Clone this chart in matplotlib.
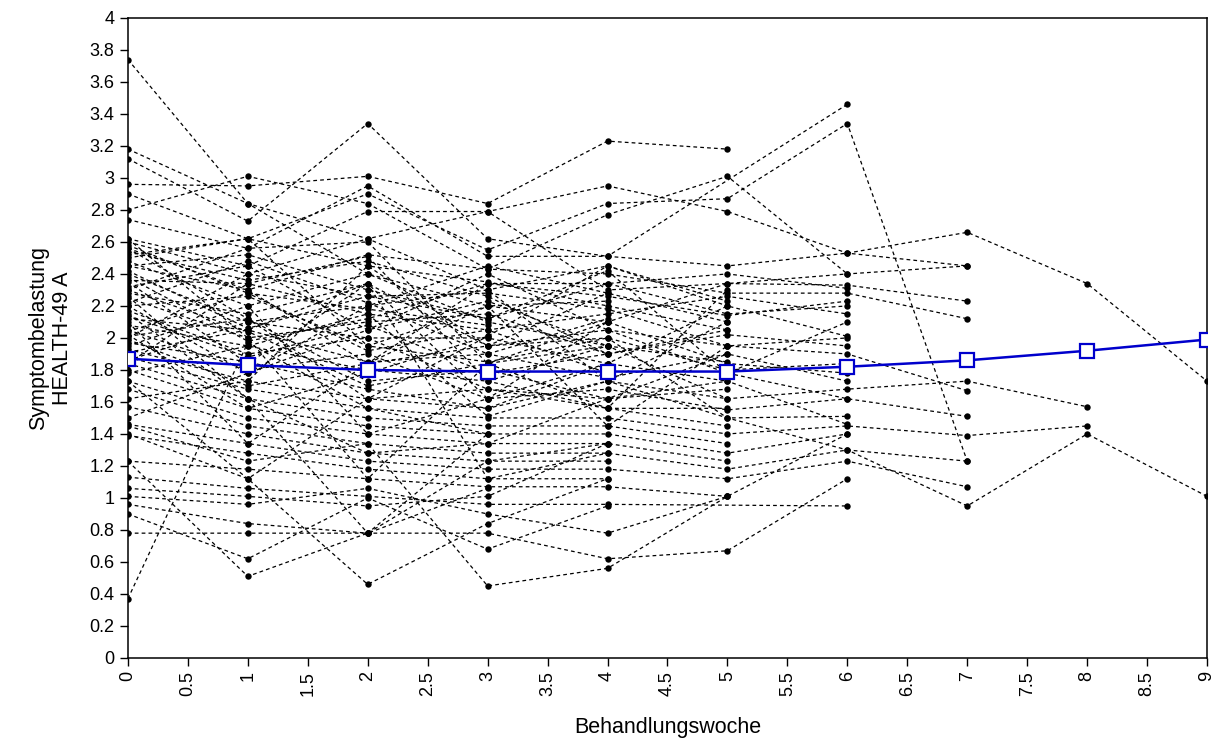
import numpy as np
import matplotlib
matplotlib.use('Agg')
import matplotlib.pyplot as plt
from matplotlib.ticker import FuncFormatter

plt.rcParams['font.family'] = ['Liberation Sans', 'DejaVu Sans']

# --- DATA
weeks = list(range(10))

# one list per patient, week 0 onwards; None = no measurement that week
patients = [
    [3.74, 2.84, 2.40, 2.10, 1.95],
    [3.18, 2.84, 2.62, 2.79, 2.95, 2.79, 2.53, 2.45],
    [3.12, 2.73, 3.34, 2.62, 2.51, 2.45, 2.53, 2.66, 2.34, 1.73],
    [2.96, 2.95, 3.01, 2.84, 3.23, 3.18],
    [2.90, 2.62, 2.90, 2.55, 2.84, 2.87, 3.34, 1.23],
    [2.80, 3.01, 2.84, 2.43, 2.77, 3.01, 2.40],
    [2.74, 2.56, 2.95, 2.51, 2.51, None, 3.46],
    [2.62, 2.45, 2.79, 2.79, 2.30, 2.34, 2.33, 2.23],
    [2.60, 2.40, 2.62, 2.30, 2.45, 2.20],
    [2.56, 2.30, 2.52, 2.43, 2.40, 2.28, 2.28, 2.12],
    [2.52, 2.62, 2.45, 2.35, 2.20, 2.05],
    [2.48, 2.20, 2.40, 2.20, 2.10, 2.34, 2.40, 2.45],
    [2.45, 2.52, 2.30, 2.12, 2.34, 2.15, 2.20],
    [2.40, 2.10, 2.20, 2.45, 2.28, 2.10],
    [2.36, 2.34, 2.15, 2.05, 2.15, 2.26, 2.15],
    [2.32, 2.45, 2.05, 2.23, 1.95, 1.85],
    [2.28, 2.15, 2.34, 1.95, 2.05, 1.95, 2.00],
    [2.25, 2.00, 2.10, 2.15, 1.90, 2.05],
    [2.20, 2.26, 1.95, 1.85, 2.00, 1.80, 1.84],
    [2.17, 1.90, 2.00, 2.00, 1.84, 1.73],
    [2.12, 2.05, 1.85, 1.90, 1.75, 1.90, 1.73],
    [2.08, 1.95, 1.80, 1.73, 1.95, 1.62],
    [2.05, 1.80, 1.90, 1.62, 1.68, 1.55, 1.62],
    [2.01, 2.12, 1.73, 1.80, 1.62, 1.68],
    [1.97, 1.85, 1.68, 1.56, 1.73, 1.50, 1.51],
    [1.93, 1.73, 1.62, 1.68, 1.56, 1.45],
    [1.88, 1.68, 1.56, 1.50, 1.50, 1.40, 1.45, 1.39, 1.45],
    [1.84, 1.62, 1.50, 1.45, 1.45, 1.34],
    [1.80, 1.56, 1.45, 1.40, 1.40, 1.28, 1.40],
    [1.73, 1.50, 1.40, 1.34, 1.34, 1.23],
    [1.68, 1.45, 1.34, 1.28, 1.28, 1.18, 1.30, 1.23],
    [1.57, 1.40, 1.28, 1.23, 1.23],
    [1.46, 1.34, 1.23, 1.18, 1.18, 1.12, 1.23, 1.07],
    [1.39, 1.28, 1.18, 1.12, 1.12],
    [1.23, 1.18, 1.12, 1.07, 1.07, 1.01],
    [1.13, 1.06, 1.01, 0.96, 0.96, None, 0.95],
    [1.06, 1.01, 0.95, 1.01, 1.34],
    [1.01, 0.96, 1.06, 0.90, 0.78, 1.01],
    [0.96, 0.84, 0.78, 0.78, 0.62, 0.67, 1.12],
    [0.90, 0.62, 1.00, 0.68, 0.95],
    [0.78, 0.78, 0.78, 1.23, 1.34],
    [0.37, 1.97, 1.56, 1.40],
    [1.23, 0.51, 0.78, 1.06],
    [1.40, 1.12, 0.46, 0.84, 1.12],
    [1.45, 1.23, 1.34, 0.45, 0.56, 1.01, 1.40],
    [2.20, 1.78, 2.20, 2.30, 1.73, 1.62, 1.68, 1.73, 1.57],
    [1.62, 1.73, 2.45, 1.95, 2.00, 1.50, 1.30, 0.95, 1.40, 1.01],
    [2.30, 2.56, 2.60, 1.84, 1.56, 2.30],
    [2.45, 2.30, 1.84, 2.34, 2.34, 2.40, 2.31],
    [2.56, 2.12, 1.62, 1.56, 1.84, 2.20, 2.01],
    [2.00, 2.40, 2.26, 2.12, 2.42, 1.78, 1.62, 1.51],
    [1.84, 2.34, 2.51, 1.73, 1.56, 1.56],
    [2.15, 1.62, 1.28, 1.34, 1.62, 1.73, 1.46],
    [1.95, 2.20, 1.40, 1.62, 2.10],
    [2.10, 1.34, 1.84, 2.20, 1.45, 1.95, 1.90, 1.67],
    [1.78, 1.95, 2.15, 1.51, 1.73, 2.10],
    [2.62, 2.00, 1.12, 1.84, 1.95],
    [1.73, 1.12, 1.62, 2.01],
    [2.35, 1.84, 2.34, 1.12, 1.28],
    [2.50, 2.62, 1.95, 2.20, 2.23],
    [1.50, 1.78, 2.05, 2.40, 2.05, 1.78, 2.10],
    [2.02, 1.56, 1.78, 2.01, 2.45, 2.23],
    [1.91, 2.05, 2.34, 1.62, 1.84],
    [2.26, 1.62, 0.78, 1.40],
    [2.58, 2.28, 2.18, 2.08],
    [2.42, 2.06, 2.26, 2.28, 2.18, 1.95],
    [2.22, 2.48, 2.22, 1.90, 2.12],
    [2.14, 1.88, 2.08, 1.78, 1.90, 2.02, 1.95],
    [2.04, 2.28, 1.92, 2.05, 1.78],
    [1.99, 1.70, 1.84, 1.95, 2.28],
    [2.30, 2.04, 1.70, 1.84, 2.10, 1.84, 1.78],
    [2.54, 2.36, 2.48, 2.26, 1.90],
    [1.86, 2.10, 2.00, 1.68, 1.62, 1.90],
    [2.38, 1.98, 2.12, 2.34, 2.26, 2.14, 2.23],
]

# fitted group curve
mean_fit = [1.87, 1.83, 1.80, 1.79, 1.79, 1.79, 1.82, 1.86, 1.92, 1.99]

x_ticks = np.arange(0, 9.01, 0.5)
y_ticks = np.arange(0, 4.01, 0.2)

# --- PLOT
fig = plt.figure(figsize=(12.18, 7.46), dpi=100)
ax = fig.add_axes([0.105, 0.118, 0.886, 0.858])

for vals in patients:
    xs = [w for w, v in zip(weeks, vals) if v is not None]
    ys = [v for v in vals if v is not None]
    ax.plot(xs, ys, color='black', lw=0.9, linestyle=(0, (3, 2.5)),
            marker='o', markersize=4.6, markerfacecolor='black',
            markeredgewidth=0, zorder=2)

ax.plot(weeks, mean_fit, color='#0000cc', lw=1.8, marker='s',
        markersize=10, markerfacecolor='white', markeredgecolor='#0000cc',
        markeredgewidth=1.6, zorder=4)

ax.set_xlim(0, 9)
ax.set_ylim(0, 4)
ax.set_xticks(x_ticks)
ax.set_yticks(y_ticks)
fmt = FuncFormatter(lambda v, pos: f"{round(v, 1):g}")
ax.xaxis.set_major_formatter(fmt)
ax.yaxis.set_major_formatter(fmt)
ax.tick_params(axis='both', direction='out', length=6, width=1, labelsize=13)
ax.tick_params(axis='x', labelrotation=90)

for sp in ax.spines.values():
    sp.set_linewidth(1.1)

ax.set_xlabel("Behandlungswoche", fontsize=15.5)
ax.xaxis.set_label_coords(0.5, -0.093)
ax.set_ylabel("Symptombelastung\nHEALTH-49 A", fontsize=15.5, labelpad=12)

plt.savefig("out.png", dpi=100)
plt.close()
